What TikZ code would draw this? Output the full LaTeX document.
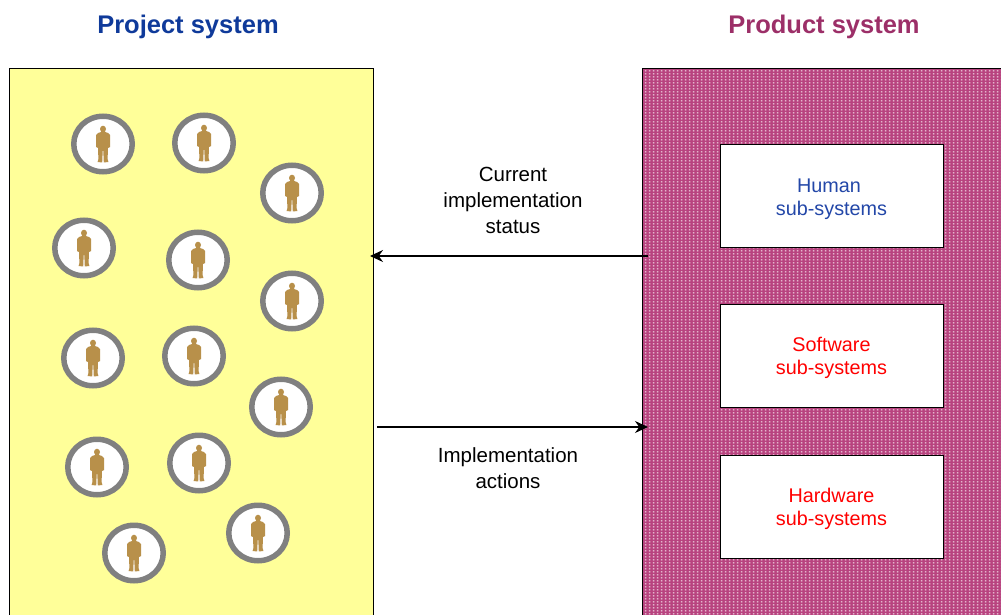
\documentclass[tikz,border=0pt]{standalone}
\usepackage{fontspec}
\setmainfont{Liberation Sans}
\usetikzlibrary{arrows.meta,patterns,shapes.geometric}
\pgfdeclarepatternformonly{prodots}{\pgfqpoint{0pt}{0pt}}{\pgfqpoint{4pt}{3pt}}{\pgfqpoint{4pt}{3pt}}{
  \pgfpathrectangle{\pgfqpoint{1pt}{0.7pt}}{\pgfqpoint{2pt}{1.6pt}}\pgfusepath{fill}
}
\definecolor{pad}{HTML}{FFFF99}
\definecolor{ring}{HTML}{808080}
\definecolor{man}{HTML}{B8904A}
\definecolor{plum}{HTML}{B8437F}
\definecolor{ptitle}{HTML}{0F3A9A}
\definecolor{qtitle}{HTML}{9C2F68}
\definecolor{hblue}{HTML}{2347A8}
\tikzset{
  x=1pt,y=-1pt,
  title/.style={font=\bfseries\fontsize{25.5}{30}\selectfont,inner sep=0pt},
  lbl/.style={font=\fontsize{20.5}{26}\selectfont,align=center,inner sep=0pt,text=black},
  sub/.style={draw=black,line width=1pt,fill=white,minimum width=223pt,minimum height=103pt,inner sep=0pt,align=center,font=\fontsize{19.8}{23}\selectfont},
  token/.style={ellipse,draw=ring,line width=5.5pt,fill=white,minimum width=58.5pt,minimum height=55.5pt,inner sep=0pt},
  flow/.style={-{Stealth[length=13pt,width=12pt]},line width=1.2pt,black},
  pics/man/.style={code={
    \fill[man] (0,-15) ellipse (3 and 3.3);
    \fill[man] (-2,-13) -- (2,-13) -- (2,-12) -- (5,-11) -- (7,-9) -- (7,3) -- (5,4) -- (4.6,15) -- (5.4,18) -- (0.8,18.5) -- (0.3,7) -- (-0.3,7) -- (-0.8,18.5) -- (-5.4,18) -- (-4.6,15) -- (-5,4) -- (-7,3) -- (-7,-9) -- (-5,-11) -- (-2,-12) -- cycle;
  }}
}
\begin{document}
\begin{tikzpicture}
\useasboundingbox (0,0) rectangle (1001,615);
\clip (0,0) rectangle (1001,615);
\fill[pad] (9.5,69) rectangle (373,625);
\draw[black,line width=1pt] (9.5,625) -- (9.5,69) -- (373,69) -- (373,625);
\fill[plum] (642,69) rectangle (1010,625);
\fill[pattern=prodots,pattern color=white!92!plum] (642,69) rectangle (1010,625);
\draw[black,line width=1pt] (642,625) -- (642,69) -- (1010,69);
\node[title,text=ptitle] (pt) at (188,27) {Project system};
\node[title,text=qtitle] (qt) at (824,27) {Product system};
\node[sub,text=hblue] (human) at (831.5,196) {\rule{0pt}{20pt}Human\hspace*{5pt}\\sub-systems};
\node[sub,text=red] (soft) at (831.5,355.5) {\rule{0pt}{20pt}Software\\sub-systems};
\node[sub,text=red] (hard) at (831.5,506.5) {\rule{0pt}{20pt}Hardware\\sub-systems};
\node[lbl] (status) at (513,200) {Current\\implementation\\status};
\node[lbl] (actions) at (508,468) {Implementation\\actions};
\foreach \n/\a/\b in {t1/103/144,t2/204/143,t3/292/193,t4/84/248,t5/198/260,t6/292/301,t7/93/358,t8/194/356,t9/281/407,t10/97/467,t11/199/463,t12/134/553,t13/258/533}{
  \node[token] (\n) at (\a,\b) {};
  \pic at (\a,\b) {man};
}
\coordinate (ps1) at (648,256);
\coordinate (pj1) at (370,256);
\coordinate (pj2) at (377,427);
\coordinate (ps2) at (648,427);
\draw[flow] (ps1) -- (pj1);
\draw[flow] (pj2) -- (ps2);
\end{tikzpicture}
\end{document}
